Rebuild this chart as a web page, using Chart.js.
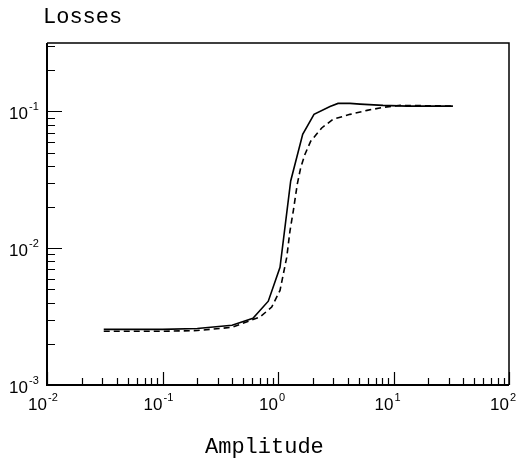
<!DOCTYPE html>
<html>
<head>
<meta charset="utf-8">
<script src="https://cdn.jsdelivr.net/npm/chart.js@4/dist/chart.umd.min.js"></script>
<style>
  html, body { margin: 0; padding: 0; background: #fff; }
  #wrap { width: 518px; height: 459px; }
</style>
</head>
<body>
<div id="wrap"><canvas id="chart" width="518" height="459"></canvas></div>
<script>
// amplitude (x) and losses (y)
const ampSolid = [0.031, 0.1, 0.2, 0.4, 0.607, 0.824, 1.041, 1.288, 1.636, 2.05, 2.82, 3.31, 4.2, 5.13, 8.11, 13.1, 32.7];
const lossSolid = [0.00255, 0.00255, 0.00259, 0.00273, 0.00307, 0.0041, 0.00725, 0.031, 0.068, 0.0951, 0.1087, 0.1143, 0.1143, 0.113, 0.1106, 0.1093, 0.1093];

const ampDashed = [0.031, 0.1, 0.2, 0.4, 0.698, 0.882, 1.041, 1.19, 1.27, 1.357, 1.469, 1.572, 1.713, 1.919, 2.39, 2.99, 4.2, 5.9, 8.11, 11.4, 32.7];
const lossDashed = [0.00247, 0.00247, 0.0025, 0.00264, 0.00314, 0.00371, 0.00491, 0.00857, 0.0134, 0.01875, 0.0294, 0.0387, 0.0486, 0.0605, 0.0756, 0.0875, 0.0951, 0.1017, 0.1069, 0.1106, 0.1093];

const xTicks = [0.01, 0.1, 1, 10, 100];
const xTickExp = ["-2", "-1", "0", "1", "2"];
const yTicks = [0.001, 0.01, 0.1];
const yTickExp = ["-3", "-2", "-1"];

const xTitle = "Amplitude";
const yTitle = "Losses";

const toPts = (xs, ys) => xs.map((x, i) => ({ x, y: ys[i] }));

// frame, inward ticks, 10^n labels and titles
const axesPlugin = {
  id: "axes",
  afterDraw(chart) {
    const { ctx, chartArea: a, scales } = chart;
    const xs = scales.x, ys = scales.y;
    ctx.save();
    ctx.strokeStyle = "#000";
    ctx.lineCap = "butt";

    // frame
    ctx.lineWidth = 2;
    ctx.beginPath();
    ctx.moveTo(a.left, a.top); ctx.lineTo(a.left, a.bottom); ctx.lineTo(a.right, a.bottom);
    ctx.stroke();
    ctx.lineWidth = 1.5;
    ctx.beginPath();
    ctx.moveTo(a.left, a.top); ctx.lineTo(a.right, a.top); ctx.lineTo(a.right, a.bottom);
    ctx.stroke();

    // ticks
    ctx.lineWidth = 1.2;
    const decade = (min, max, cb) => {
      for (let e = Math.floor(Math.log10(min)); e <= Math.ceil(Math.log10(max)); e++) {
        for (let k = 1; k <= 9; k++) {
          const v = k * Math.pow(10, e);
          if (v < min * 0.999 || v > max * 1.001) continue;
          cb(v, k === 1);
        }
      }
    };
    ctx.beginPath();
    decade(xs.min, xs.max, (v, major) => {
      const px = Math.round(xs.getPixelForValue(v)) + 0.5;
      ctx.moveTo(px, a.bottom); ctx.lineTo(px, a.bottom - (major ? 13 : 7));
    });
    decade(ys.min, ys.max, (v, major) => {
      const py = Math.round(ys.getPixelForValue(v)) + 0.5;
      ctx.moveTo(a.left, py); ctx.lineTo(a.left + (major ? 15 : 8), py);
    });
    ctx.stroke();

    // tick labels: "10" with superscript exponent
    ctx.fillStyle = "#000";
    ctx.textBaseline = "middle";
    const big = "17px 'Liberation Sans', Arial, sans-serif";
    const small = "11px 'Liberation Sans', Arial, sans-serif";
    xTicks.forEach((v, i) => {
      const px = xs.getPixelForValue(v);
      const py = a.bottom + 20;
      ctx.font = big; ctx.textAlign = "right";
      ctx.fillText("10", px, py);
      ctx.font = small; ctx.textAlign = "left";
      ctx.fillText(xTickExp[i], px + 1, py - 7);
    });
    yTicks.forEach((v, i) => {
      const py = ys.getPixelForValue(v) + 3;
      ctx.font = big; ctx.textAlign = "right";
      ctx.fillText("10", 28, py);
      ctx.font = small; ctx.textAlign = "left";
      ctx.fillText(yTickExp[i], 29, py - 7);
    });

    // titles
    ctx.font = "22px 'Liberation Mono', 'Courier New', monospace";
    ctx.textBaseline = "alphabetic";
    ctx.textAlign = "left";
    ctx.fillText(xTitle, 205, 453);
    ctx.fillText(yTitle, 43, 23);
    ctx.restore();
  }
};

new Chart(document.getElementById("chart"), {
  type: "line",
  data: {
    datasets: [
      {
        label: "solid",
        data: toPts(ampSolid, lossSolid),
        borderColor: "#000",
        borderWidth: 1.6,
        pointRadius: 0,
        tension: 0,
      },
      {
        label: "dashed",
        data: toPts(ampDashed, lossDashed),
        borderColor: "#000",
        borderWidth: 1.6,
        borderDash: [6, 4],
        pointRadius: 0,
        tension: 0,
      },
    ],
  },
  options: {
    responsive: false,
    animation: false,
    layout: { padding: { left: 47, right: 9, top: 43, bottom: 74 } },
    plugins: { legend: { display: false }, tooltip: { enabled: false } },
    scales: {
      x: { type: "logarithmic", min: 0.01, max: 100, display: false },
      y: { type: "logarithmic", min: 0.001, max: 0.316, display: false },
    },
  },
  plugins: [axesPlugin],
});
</script>
</body>
</html>
